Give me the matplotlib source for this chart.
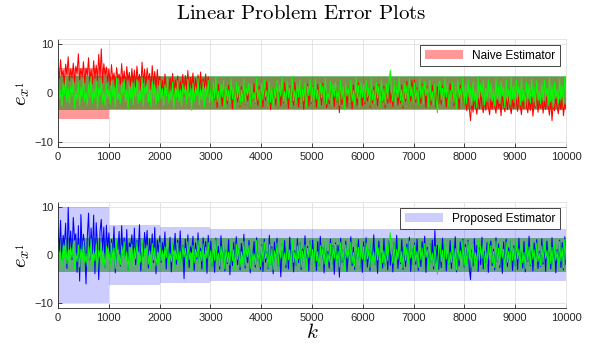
import numpy as np
import matplotlib.pyplot as plt

plt.rcParams['mathtext.fontset'] = 'cm'
plt.rcParams['font.family'] = 'Liberation Sans'

# bound edges (per 1000 steps)
seg_edges = [0, 1000, 2000, 3000, 4000, 5000, 6000, 7000, 8000, 9000, 10000]
naive_bound = [5.2, 3.3, 3.3, 3.3, 3.3, 3.3, 3.3, 3.3, 3.3, 3.3]
proposed_bound = [10.0, 6.3, 5.8, 5.4, 5.3, 5.3, 5.3, 5.3, 5.3, 5.3]
true_bound = 3.45

# error traces, one row per 500 steps
naive_err = [
    5.2, 2.9, 6.8, 3.4, 4.6, 1.8, 5.9, 3.7, 7.4, 2.5, 4.9, 3.1, 6.1, 2.2, 5.5, 4.0, 8.0, 2.7, 5.0, 3.3,
    6.4, 2.0, 5.1, 3.6, 7.2, 2.4, 4.8, 1.9, 6.6, 3.0, 5.7, 2.6, 7.9, 3.2, 9.0, 2.1, 6.0, 3.5, 5.3, 2.3,
    4.9, 1.6, 5.8, 2.7, 4.1, 1.1, 5.2, 3.0, 3.9, 1.8, 6.0, 2.2, 4.5, 0.9, 5.4, 2.6, 4.2, 1.4, 5.0, 2.0,
    4.7, 1.2, 5.5, 2.5, 3.8, 0.8, 6.3, 2.1, 4.9, 1.5, 5.1, 2.8, 4.0, 0.7, 5.6, 1.9, 4.4, 1.0, 4.8, 1.7,
    3.4, 0.2, 2.6, -0.8, 3.9, 1.1, 2.2, -0.4, 3.1, 0.6, 4.0, -1.0, 2.7, 0.9, 3.5, -0.2, 2.4, 0.4, 3.8, -0.6,
    3.6, 0.7, 4.6, 0.0, 3.2, 1.0, 4.1, -0.5, 2.9, 0.8, 3.7, 0.3, 4.3, -0.3, 3.0, 1.2, 3.9, 0.1, 3.3, -0.7,
    0.9, -2.4, 1.5, -1.3, 0.2, -3.0, 1.8, -1.7, 0.6, -2.6, 1.2, -0.9, -0.1, -2.2, 1.6, -1.5, 0.4, -3.2, 1.0, -2.0,
    1.7, -1.8, 0.5, -2.7, 1.3, -1.1, 2.0, -2.3, 0.3, -1.6, 1.1, -2.9, 0.8, -1.4, 1.9, -2.1, 0.1, -2.5, 1.4, -1.9,
    0.7, -2.8, 1.6, -1.5, 2.3, -2.2, 0.4, -3.4, 1.2, -1.7, 0.9, -2.4, 1.8, -1.2, 0.2, -2.6, 1.5, -2.0, 2.1, -1.6,
    0.6, -3.1, 1.4, -1.9, 0.8, -2.5, 2.2, -1.4, 0.3, -2.8, 1.7, -2.2, 1.0, -3.3, 0.5, -1.8, 1.9, -2.6, 0.9, -2.1,
    1.3, -2.0, 0.4, -2.9, 1.8, -1.6, 0.7, -2.4, 2.0, -1.9, 1.1, -3.0, 0.2, -2.2, 1.6, -1.5, 0.9, -2.7, 1.4, -1.8,
    0.8, -4.0, 1.5, -2.3, 0.3, -1.7, 1.9, -2.8, 1.0, -2.1, 0.6, -3.2, 1.7, -1.4, 0.4, -2.5, 2.1, -1.9, 1.2, -2.6,
    0.9, -2.2, 1.6, -1.6, 0.2, -2.9, 2.0, -2.0, 1.3, -1.5, 0.5, -2.6, 1.8, -2.3, 0.7, -1.8, 1.4, -3.0, 1.1, -2.1,
    1.5, -1.9, 0.6, -2.7, 2.2, -1.5, 1.0, -2.4, 0.3, -2.0, 1.7, -3.1, 0.8, -1.7, 2.4, -2.2, 1.2, -1.6, 2.6, -2.5,
    2.6, -1.8, 1.1, -2.6, 0.5, -2.1, 1.8, -1.4, 0.7, -2.9, 1.4, -2.0, 0.2, -2.4, 1.6, -1.7, 0.9, -3.0, 1.3, -2.2,
    0.6, -2.3, 1.5, -1.6, 0.1, -2.8, 1.2, -2.0, 1.9, -1.5, 0.4, -2.6, 1.0, -2.1, 0.8, -3.2, 1.6, -1.9, 0.3, -2.4,
    -0.8, -3.6, -0.1, -3.0, -5.6, -1.5, -3.9, -0.4, -2.8, -4.3, -1.0, -3.2, 0.3, -2.5, -4.0, -1.2, -3.5, -0.6, -2.9, -4.4,
    -1.3, -3.3, 0.2, -2.7, -4.1, -0.9, -3.0, -1.6, -4.6, -0.5, -2.4, -3.8, -1.1, -3.4, 0.0, -2.9, -4.2, -1.4, -3.1, -0.7,
    -1.5, -3.7, -0.3, -2.6, -4.4, -1.0, -3.2, 0.1, -2.8, -4.0, -1.2, -3.5, -0.6, -4.7, -1.8, -2.9, -0.2, -3.9, -1.4, -3.0,
    -0.9, -4.1, -1.7, -3.3, -0.4, -2.7, -4.5, -1.1, -5.6, -2.0, -3.6, -0.5, -2.9, -4.2, -1.3, -3.4, -0.8, -4.6, -2.2, -3.1,
]
proposed_err = [
    5.4, 0.8, 7.2, -1.5, 4.1, 2.0, 6.6, -2.8, 9.9, 1.2, 5.0, -0.9, 7.8, 3.1, 4.4, -3.6, 6.1, -5.4, 8.4, 0.5,
    4.3, 1.6, -6.0, 3.8, 8.7, -1.0, 5.6, 0.3, 8.3, -3.9, 6.7, 2.2, -5.1, 4.9, 7.4, 0.9, 5.8, -2.6, 6.2, 1.4,
    4.6, -1.8, 3.2, 0.4, 5.9, -3.7, 2.8, 1.1, 4.9, -2.3, 6.1, 0.0, 3.6, -1.2, 5.3, -3.1, 2.5, 1.7, 4.2, -0.6,
    5.6, -2.0, 3.0, 0.8, 6.3, -3.3, 2.4, -0.4, 4.7, 1.5, 5.1, -2.7, 3.4, 0.2, 4.4, -1.6, 5.7, -3.9, 3.1, 0.6,
    4.0, -1.5, 2.6, 0.3, 4.8, -2.9, 1.9, -0.6, 3.7, -3.5, 2.2, 0.9, 4.5, -1.9, 3.1, -0.2, 5.0, -2.4, 2.0, -4.9,
    3.3, -1.0, 4.2, -2.6, 1.7, 0.5, 3.9, -3.2, 2.5, -0.8, 4.6, -1.7, 1.4, -2.9, 3.6, 0.2, 2.8, -3.8, 4.1, -1.2,
    2.9, -2.4, 0.7, -3.6, 3.5, -1.1, 1.8, -2.9, 4.0, -0.6, 2.2, -3.3, 1.1, -1.8, 3.2, -4.1, 0.9, -2.2, 2.6, -1.4,
    3.8, -2.0, 1.3, -3.1, 2.4, -0.9, 4.3, -2.7, 0.8, -1.6, 3.0, -3.7, 1.6, -0.4, 2.8, -2.5, 3.6, -1.3, 0.5, -3.0,
    2.1, -3.4, 3.3, -1.5, 0.6, -2.8, 4.1, -1.9, 1.7, -3.9, 2.7, -0.8, 3.5, -2.3, 1.0, -4.5, 2.4, -1.2, 3.0, -2.6,
    1.4, -2.9, 3.7, -1.0, 2.2, -3.5, 0.9, -2.1, 3.4, -1.6, 2.6, -3.0, 1.2, -0.7, 4.0, -2.4, 1.8, -3.3, 2.9, -1.8,
    3.1, -1.7, 1.0, -3.2, 2.8, -2.3, 3.9, -0.9, 1.5, -3.7, 2.3, -1.4, 0.7, -2.7, 3.3, -2.0, 1.9, -4.0, 2.5, -1.1,
    2.0, -4.6, 3.5, -1.5, 1.2, -2.6, 2.9, -3.4, 0.8, -1.9, 3.8, -2.2, 1.6, -3.0, 2.4, -0.8, 3.2, -2.8, 1.1, -3.6,
    2.7, -1.3, 3.6, -2.5, 1.0, -3.3, 2.2, -0.9, 4.2, -2.0, 1.5, -3.8, 2.9, -1.6, 0.7, -2.7, 3.4, -2.2, 1.8, -3.1,
    3.0, -2.1, 1.4, -3.5, 2.6, -1.2, 4.1, -2.8, 0.9, -1.8, 3.2, -3.0, 1.7, -2.4, 2.3, -0.7, 3.7, -3.4, 1.2, -2.0,
    2.5, -1.9, 3.3, -3.2, 1.1, -2.4, 2.8, -1.0, 3.9, -3.6, 1.6, -2.2, 2.4, -1.5, 3.1, -2.9, 5.1, -1.7, 2.0, -3.0,
    1.3, -2.6, 3.5, -1.4, 2.1, -3.3, 0.8, -2.0, 3.0, -2.8, 1.9, -1.1, 3.8, -3.5, 1.4, -2.3, 2.7, -0.9, 3.3, -2.5,
    2.2, -1.8, 3.1, -2.7, -5.1, 1.0, -2.3, 3.4, -1.2, 2.0, -3.4, 1.5, -2.0, 3.7, -2.9, 0.8, -1.6, 2.6, -3.6, 1.8,
    2.9, -2.2, 1.2, -3.1, 3.6, -1.4, 2.3, -2.6, 0.9, -3.8, 2.7, -1.7, 3.3, -2.4, 1.5, -0.8, 3.0, -3.2, 1.9, -2.1,
    2.4, -3.0, 3.5, -1.6, 1.0, -2.7, 2.8, -3.5, 1.7, -1.3, 3.9, -2.2, 1.3, -3.3, 2.5, -1.0, 3.2, -2.8, 0.7, -2.4,
    3.4, -1.9, 2.0, -3.4, 2.9, -1.2, 1.4, -2.9, 3.6, -2.1, 2.2, -3.7, 1.1, -1.5, 3.1, -2.6, 2.6, -3.1, 3.8, -2.0,
]
true_err = [
    2.4, -1.1, 0.6, -2.7, 1.9, -0.3, 3.2, -1.8, 0.9, -2.2, 1.5, -0.6, 2.7, -3.0, 0.4, -1.4, 2.1, -2.5, 1.2, -0.8,
    2.9, -1.6, 0.2, -2.4, 1.7, -0.9, 3.4, -2.0, 0.8, -1.2, 2.3, -3.1, 1.0, -0.5, 2.6, -1.9, 0.3, -2.6, 1.8, -1.0,
    0.7, -2.3, 2.5, -0.7, 1.4, -2.8, 3.0, -1.3, 0.1, -2.0, 1.9, -0.4, 2.8, -1.7, 0.6, -3.3, 1.6, -1.1, 2.2, -2.4,
    1.3, -0.8, 2.7, -2.1, 0.4, -1.5, 3.1, -2.6, 1.1, -0.2, 2.0, -1.9, 0.8, -2.9, 2.4, -1.0, 1.5, -2.3, 0.5, -1.6,
    2.6, -1.2, 0.9, -2.5, 1.7, -0.6, 2.9, -2.0, 0.3, -1.4, 2.2, -3.0, 1.0, -0.9, 2.5, -1.8, 0.7, -2.7, 1.9, -0.4,
    1.4, -2.2, 2.8, -1.0, 0.5, -3.5, 2.0, -1.6, 1.2, -0.5, 3.0, -2.4, 0.8, -1.3, 2.3, -2.8, 1.6, -0.7, 2.6, -1.9,
    0.9, -2.6, 2.1, -1.1, 3.2, -1.8, 0.4, -2.3, 1.8, -0.8, 2.5, -2.9, 1.3, -1.5, 0.6, -2.1, 2.9, -1.2, 1.1, -3.1,
    2.3, -0.9, 1.5, -2.5, 0.7, -1.7, 2.8, -2.2, 1.0, -0.4, 2.0, -2.8, 1.7, -1.3, 0.2, -2.0, 3.0, -1.5, 0.8, -2.4,
    1.9, -1.4, 2.7, -0.7, 0.5, -2.6, 2.2, -1.9, 1.3, -3.0, 0.9, -1.1, 2.5, -2.3, 1.6, -0.6, 3.1, -1.7, 0.4, -2.1,
    2.4, -1.0, 1.1, -2.7, 3.3, -1.5, 0.6, -2.0, 1.9, -0.8, 2.6, -2.5, 0.9, -1.6, 2.1, -3.0, 1.4, -0.5, 2.8, -1.8,
    1.2, -2.3, 2.9, -1.2, 0.7, -2.8, 2.0, -0.9, 1.5, -1.9, 3.0, -2.2, 0.3, -1.4, 2.4, -2.6, 1.8, -0.7, 2.2, -1.6,
    0.8, -2.5, 2.6, -1.3, 1.4, -3.2, 2.1, -0.6, 1.0, -2.0, 2.7, -1.7, 0.5, -2.4, 3.1, -1.1, 1.6, -2.9, 2.3, -0.9,
    1.7, -1.8, 2.5, -0.8, 1.0, -2.6, 3.0, -1.4, 0.6, -2.1, 2.2, -1.0, 1.5, -2.8, 2.8, -1.6, 0.9, -2.3, 1.9, -1.2,
    2.4, 4.6, 0.3, -1.7, 2.6, -2.4, 1.2, -0.9, 3.1, -1.5, 0.7, -2.7, 2.0, -1.1, 1.6, -2.2, 2.9, -0.6, 1.3, -2.5,
    2.1, -1.3, 0.8, -2.6, 3.0, -1.0, 1.5, -2.1, 2.4, -0.5, 1.1, -2.9, 2.7, -1.6, 0.4, -2.3, 1.8, -1.2, -4.0, 1.9,
    2.5, -1.4, 1.0, -2.4, 2.9, -0.8, 1.7, -2.7, 0.6, -1.5, 2.2, -2.0, 1.3, -3.1, 2.6, -1.1, 0.9, -1.9, 3.0, -2.3,
    1.6, -2.2, 2.8, -0.9, 1.1, -2.5, 2.3, -1.6, 0.5, -2.9, 3.1, -1.2, 1.8, -0.7, 2.5, -2.4, 1.0, -1.8, 2.7, -1.0,
    2.0, -1.7, 0.7, -2.6, 2.9, -1.3, 1.4, -2.1, 2.4, -0.6, 1.2, -3.0, 2.6, -1.5, 0.8, -2.3, 3.2, -1.1, 1.5, -2.0,
    2.7, -0.8, 1.3, -2.4, 3.0, -1.6, 0.6, -2.8, 2.2, -1.2, 1.7, -2.0, 2.8, -0.9, 1.1, -2.6, 2.5, -1.4, 0.4, -2.2,
    1.9, -1.5, 2.6, -0.7, 1.0, -2.5, 3.1, -1.8, 1.6, -2.9, 2.3, -1.1, 0.8, -2.1, 2.8, -1.3, 1.5, -2.7, 3.3, -0.9,
]

k = np.linspace(0, 10000, len(naive_err))
edges = np.array(seg_edges)


def draw_panel(ax, bound, bound_color, bound_alpha, err, err_color, label):
    b = np.append(bound, bound[-1])
    ax.fill_between(edges, -b, b, step='post', color=bound_color, alpha=bound_alpha,
                    linewidth=0, label=label)
    ax.fill_between([0, 10000], -true_bound, true_bound, color=(0, 0.5, 0), alpha=0.5, linewidth=0)
    ax.plot(k, err, color=err_color, linewidth=0.75)
    ax.plot(k, true_err, color=(0, 1, 0), linewidth=0.75)

    ax.set_xlim(0, 10000)
    ax.set_ylim(-11, 11)
    ax.set_xticks(np.arange(0, 10001, 1000))
    ax.set_yticks([-10, 0, 10])
    ax.tick_params(direction='in', labelsize=8, colors='0.15', length=3, width=0.6)
    ax.grid(True, color='0.88', linewidth=0.6)
    ax.set_axisbelow(True)
    for s in ['left', 'bottom']:
        ax.spines[s].set_color('0.15')
        ax.spines[s].set_linewidth(0.6)
    for s in ['top', 'right']:
        ax.spines[s].set_color('0.88')
        ax.spines[s].set_linewidth(0.6)
    ax.set_ylabel(r'$e_{x^1}$', fontsize=15, labelpad=1)
    leg = ax.legend(loc='upper right', fontsize=8.5, fancybox=False, framealpha=1,
                    edgecolor='0.15', handlelength=3.2, borderpad=0.4)
    leg.get_frame().set_linewidth(0.6)


fig = plt.figure(figsize=(5.98, 3.52), dpi=100)
ax1 = fig.add_axes([0.097, 0.582, 0.8495, 0.307])
ax2 = fig.add_axes([0.097, 0.125, 0.8495, 0.301])

draw_panel(ax1, naive_bound, (1, 0, 0), 0.4, naive_err, (1, 0, 0), 'Naive Estimator')
draw_panel(ax2, proposed_bound, (0, 0, 1), 0.2, proposed_err, (0, 0, 1), 'Proposed Estimator')

ax2.set_xlabel(r'$k$', fontsize=15, labelpad=0)
fig.text(0.503, 0.962, r'$\mathrm{Linear\ Problem\ Error\ Plots}$', fontsize=15,
         ha='center', va='center')

plt.savefig('out.png', dpi=100)
